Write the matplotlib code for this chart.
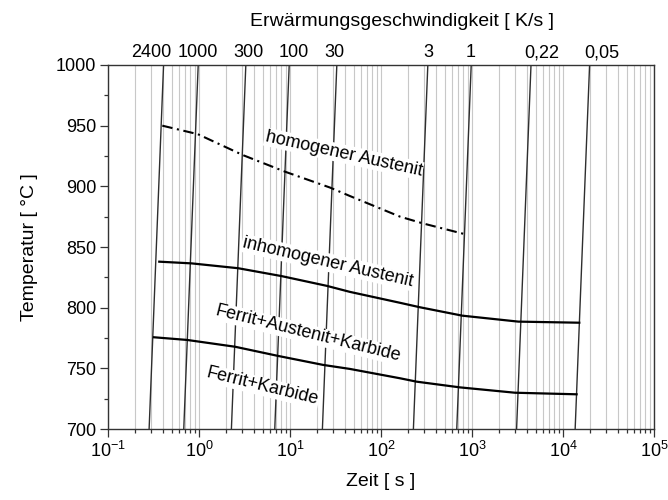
import numpy as np
import matplotlib
matplotlib.use("Agg")
import matplotlib.pyplot as plt
import matplotlib.transforms as mtransforms
from matplotlib.ticker import MultipleLocator

plt.rcParams['font.family'] = ['Liberation Sans', 'DejaVu Sans']
plt.rcParams['font.size'] = 13

# Aufheizgeschwindigkeiten [K/s] und Zeiten bei 700 / 1000 °C
raten = ["2400", "1000", "300", "100", "30", "3", "1", "0,22", "0,05"]
t_700 = [0.283, 0.68, 2.27, 6.8, 22.7, 227, 680, 3090, 13600]
t_1000 = [0.408, 0.98, 3.27, 9.8, 32.7, 327, 980, 4450, 19600]

# Ac-Linien (Zeit [s], Temperatur [°C])
homogen_t = [0.395, 0.97, 3.07, 8.87, 27.5, 45.6, 162, 287, 822]
homogen_T = [950, 943, 925.6, 912, 899, 892, 875, 869.5, 860.7]

inhomogen_t = [0.366, 0.83, 2.7, 8.1, 25.3, 45.6, 162, 269, 784, 3230, 15100]
inhomogen_T = [837.9, 836.5, 832.5, 826, 818, 813, 804, 800.3, 793.4, 788.5, 787.6]

fak_t = [0.32, 0.74, 2.49, 7.43, 23.2, 45.6, 162, 247, 738, 2970, 14100]
fak_T = [775.6, 773.4, 767.8, 760.2, 752.8, 749.5, 741.8, 739, 734.3, 729.9, 728.6]

bereiche = ["homogener Austenit", "inhomogener Austenit",
            "Ferrit+Austenit+Karbide", "Ferrit+Karbide"]
bereich_t = [38.9, 25.8, 15.96, 4.99]
bereich_T = [926.7, 837.3, 778.3, 734.9]
bereich_winkel = [-12.5, -13, -14, -13.8]

# seitliche Verschiebung der oberen Beschriftung [px]
oben_dx = [-12, 0, 3, 5, -2, 1, -1, 11, 12]

fig = plt.figure(figsize=(6.68, 5.0), dpi=100)
ax = fig.add_axes([108/668, 71/500, 546/668, 364/500])

for i in range(len(raten)):
    ax.plot([t_700[i], t_1000[i]], [700, 1000], color="#2e2e2e", lw=1.0, zorder=2)

ax.plot(homogen_t, homogen_T, color="black", lw=1.5, dashes=(5, 2.2, 1, 2.2), zorder=4)
ax.plot(inhomogen_t, inhomogen_T, color="black", lw=1.6, zorder=4)
ax.plot(fak_t, fak_T, color="black", lw=1.6, zorder=4)

for i in range(len(bereiche)):
    ax.text(bereich_t[i], bereich_T[i], bereiche[i], rotation=bereich_winkel[i],
            ha="center", va="center", rotation_mode="anchor", zorder=3, fontsize=13,
            bbox=dict(facecolor="white", edgecolor="none", pad=0.5))

ax.set_xscale("log")
ax.set_xlim(1e-1, 1e5)
ax.set_ylim(700, 1000)
ax.yaxis.set_major_locator(MultipleLocator(50))
ax.yaxis.set_minor_locator(MultipleLocator(25))
ax.grid(True, which="both", axis="x", color="#c8c8c8", lw=0.8, zorder=1)
ax.set_axisbelow(True)

for s in ax.spines.values():
    s.set_linewidth(1.0)
    s.set_color("#333333")
ax.tick_params(which="major", direction="out", length=5.5, width=0.9, color="#333333", pad=3)
ax.tick_params(which="minor", direction="out", length=2.8, width=0.9, color="#333333")
ax.tick_params(axis="x", which="both", top=False)
ax.tick_params(axis="y", which="both", right=False)

ax.set_xlabel("Zeit [ s ]", fontsize=14, labelpad=9)
ax.set_ylabel("Temperatur [ °C ]", fontsize=14, labelpad=13)

trans = mtransforms.blended_transform_factory(ax.transData, ax.transAxes)
for i in range(len(raten)):
    off = mtransforms.ScaledTranslation(oben_dx[i]/100, 4/100, fig.dpi_scale_trans)
    ax.text(t_1000[i], 1.0, raten[i], transform=trans + off, ha="center", va="bottom")

ax.text((402-108)/546, 1.0 + 35/364, "Erwärmungsgeschwindigkeit [ K/s ]",
        transform=ax.transAxes, ha="center", va="bottom", fontsize=14)

fig.savefig("out.png", dpi=100)
